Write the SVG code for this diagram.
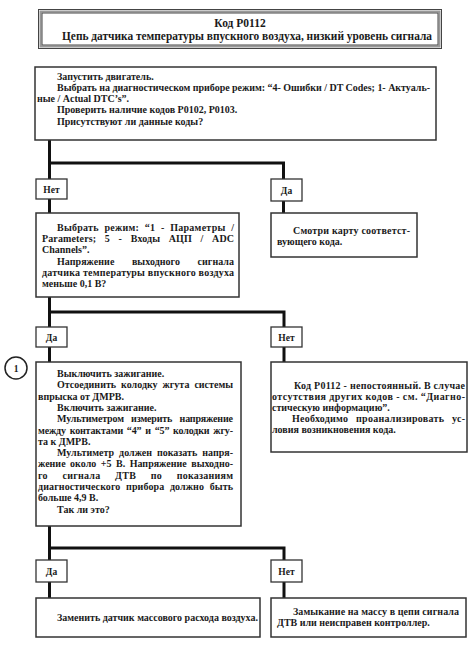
<svg xmlns="http://www.w3.org/2000/svg" width="474" height="658" viewBox="0 0 474 658">
<style>
  .t { font-family: "Liberation Serif", "Times New Roman", serif; font-weight: bold; font-size: 10px; fill: #1a1a1a; }
  .h { font-family: "Liberation Serif", "Times New Roman", serif; font-weight: bold; font-size: 11.5px; fill: #1a1a1a; }
  .lb { font-family: "Liberation Serif", "Times New Roman", serif; font-weight: bold; font-size: 9.5px; fill: #1a1a1a; text-anchor: middle; }
  .box { fill: #fff; stroke: #333; stroke-width: 1.5; }
  .lab { fill: #fff; stroke: #333; stroke-width: 1.3; }
  .wire { fill: none; stroke: #111; stroke-width: 3; }
</style>
<rect width="474" height="658" fill="#fff"/>

<g id="header">
  <rect x="38.5" y="9.5" width="403" height="39" fill="#fff" stroke="#444" stroke-width="1"/>
  <rect x="40.5" y="11.5" width="399" height="35" fill="none" stroke="#999" stroke-width="2"/>
  <rect x="42" y="13" width="396" height="32" fill="none" stroke="#444" stroke-width="1"/>
  <text class="h" x="240" y="27" text-anchor="middle">Код P0112</text>
  <text class="h" x="62" y="40" textLength="370" lengthAdjust="spacingAndGlyphs">Цепь датчика температуры впускного воздуха, низкий уровень сигнала</text>
</g>

<g id="connectors">
  <path class="wire" d="M49.5,140 V213 M49.5,163 H283.5 V213"/>
  <path class="wire" d="M49.5,297 V362 M49.5,312 H284 V362"/>
  <path class="wire" d="M49.5,525 V598 M49.5,548 H284 V598"/>
</g>

<g id="node-start">
  <rect class="box" x="35" y="67" width="401" height="73"/>
  <text class="t" x="57" y="79.5">Запустить двигатель.</text>
  <text class="t" x="57" y="90.8" textLength="373" lengthAdjust="spacing">Выбрать на диагностическом приборе режим: “4- Ошибки / DT Codes; 1- Актуаль-</text>
  <text class="t" x="37" y="102.1">ные / Actual DTC’s”.</text>
  <text class="t" x="57" y="113.4">Проверить наличие кодов P0102, P0103.</text>
  <text class="t" x="57" y="124.7">Присутствуют ли данные коды?</text>
</g>

<g id="label-net-1">
  <rect class="lab" x="36" y="179" width="31" height="20"/>
  <text class="lb" x="51.5" y="192.5">Нет</text>
</g>
<g id="label-da-1">
  <rect class="lab" x="271" y="179" width="31" height="22"/>
  <text class="lb" x="286.5" y="193.5">Да</text>
</g>

<g id="node-params">
  <rect class="box" x="36" y="213" width="203" height="84"/>
  <text class="t" x="57" y="231" word-spacing="3" textLength="177" lengthAdjust="spacing">Выбрать режим: “1 - Параметры /</text>
  <text class="t" x="42" y="242.2" word-spacing="6" textLength="192" lengthAdjust="spacing">Parameters; 5 - Входы АЦП / ADC</text>
  <text class="t" x="42" y="253.4">Channels”.</text>
  <text class="t" x="57" y="264.6" word-spacing="15" textLength="177" lengthAdjust="spacing">Напряжение выходного сигнала</text>
  <text class="t" x="42" y="275.8" textLength="192" lengthAdjust="spacing">датчика температуры впускного воздуха</text>
  <text class="t" x="42" y="287">меньше 0,1 В?</text>
</g>

<g id="node-see-map">
  <rect class="box" x="271" y="213" width="146" height="44"/>
  <text class="t" x="293" y="233.5" textLength="117" lengthAdjust="spacing">Смотри карту соответст-</text>
  <text class="t" x="277" y="244.5">вующего кода.</text>
</g>

<g id="label-da-2">
  <rect class="lab" x="36" y="327" width="31" height="20"/>
  <text class="lb" x="51.5" y="340.5">Да</text>
</g>
<g id="label-net-2">
  <rect class="lab" x="271" y="327" width="31" height="20"/>
  <text class="lb" x="286.5" y="340.5">Нет</text>
</g>

<g id="marker-1">
  <circle cx="16" cy="368" r="11" fill="#fff" stroke="#222" stroke-width="1.5"/>
  <text class="lb" x="16" y="371.5">1</text>
</g>

<g id="node-check">
  <rect class="box" x="36" y="362" width="205" height="164"/>
  <text class="t" x="57" y="377">Выключить зажигание.</text>
  <text class="t" x="57" y="388.3" word-spacing="2.5" textLength="176" lengthAdjust="spacing">Отсоединить колодку жгута системы</text>
  <text class="t" x="38" y="399.6">впрыска от ДМРВ.</text>
  <text class="t" x="57" y="410.9">Включить зажигание.</text>
  <text class="t" x="57" y="422.2" word-spacing="5" textLength="176" lengthAdjust="spacing">Мультиметром измерить напряжение</text>
  <text class="t" x="38" y="433.5" word-spacing="1.5" textLength="195" lengthAdjust="spacing">между контактами “4” и “5” колодки жгу-</text>
  <text class="t" x="38" y="444.8">та к ДМРВ.</text>
  <text class="t" x="57" y="456.1" word-spacing="2.5" textLength="176" lengthAdjust="spacing">Мультиметр должен показать напря-</text>
  <text class="t" x="38" y="467.4" word-spacing="2" textLength="195" lengthAdjust="spacing">жение около +5 В. Напряжение выходно-</text>
  <text class="t" x="38" y="478.7" word-spacing="12" textLength="195" lengthAdjust="spacing">го сигнала ДТВ по показаниям</text>
  <text class="t" x="38" y="490" word-spacing="3" textLength="195" lengthAdjust="spacing">диагностического прибора должно быть</text>
  <text class="t" x="38" y="501.3">больше 4,9 В.</text>
  <text class="t" x="57" y="512.6">Так ли это?</text>
</g>

<g id="node-intermittent">
  <rect class="box" x="271" y="362" width="196" height="90"/>
  <text class="t" x="294" y="388.5" textLength="171" lengthAdjust="spacing">Код P0112 - непостоянный. В случае</text>
  <text class="t" x="272" y="399.5" textLength="193" lengthAdjust="spacing">отсутствия других кодов - см. “Диагно-</text>
  <text class="t" x="272" y="410.5">стическую информацию”.</text>
  <text class="t" x="292" y="421.5" word-spacing="5" textLength="173" lengthAdjust="spacing">Необходимо проанализировать ус-</text>
  <text class="t" x="272" y="432.5">ловия возникновения кода.</text>
</g>

<g id="label-da-3">
  <rect class="lab" x="36" y="560" width="31" height="22"/>
  <text class="lb" x="51.5" y="574.5">Да</text>
</g>
<g id="label-net-3">
  <rect class="lab" x="271" y="560" width="31" height="22"/>
  <text class="lb" x="286.5" y="574.5">Нет</text>
</g>

<g id="node-replace-maf">
  <rect class="box" x="36" y="598" width="224" height="39"/>
  <text class="t" x="57" y="621">Заменить датчик массового расхода воздуха.</text>
</g>

<g id="node-short">
  <rect class="box" x="271" y="598" width="195" height="39"/>
  <text class="t" x="293" y="615" textLength="166" lengthAdjust="spacing">Замыкание на массу в цепи сигнала</text>
  <text class="t" x="277" y="626">ДТВ или неисправен контроллер.</text>
</g>
</svg>
